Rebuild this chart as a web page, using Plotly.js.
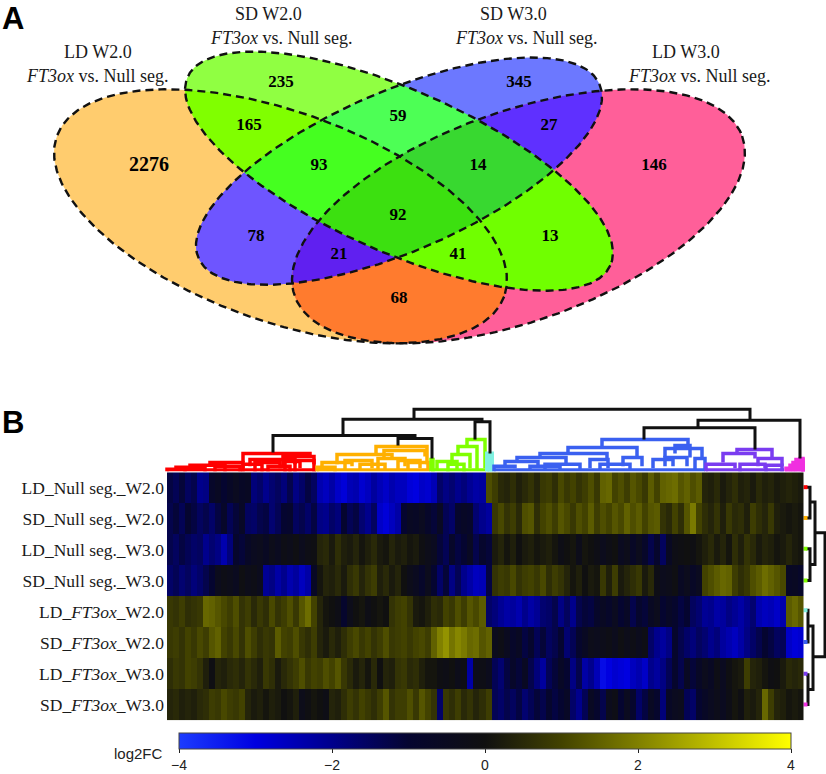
<!DOCTYPE html>
<html>
<head>
<meta charset="utf-8">
<script src="https://cdn.plot.ly/plotly-3.0.1.min.js"></script>
<style>html,body{margin:0;padding:0;background:#fff}#chart{width:826px;height:774px}</style>
</head>
<body>
<div id="chart"></div>
<script>
// ---------- Panel A: Venn ----------
const setNames = ["LD W2.0", "SD W2.0", "SD W3.0", "LD W3.0"];
const setSubtitle = "<i>FT3ox</i> vs. Null seg.";
const setLabelX = [98, 268, 513, 686];
const setLabelY = [52, 14, 14, 52];
const setSubX = [97, 281, 526, 699];
const setSubY = [77, 38, 38, 77];
// ellipse: cx, cy, semi-major, semi-minor, tilt in degrees
const ellipseLD2 = [280.5, 218, 237.8, 105.5, 19.9];
const ellipseSD2 = [399, 172.5, 231.7, 81.3, 24.2];
const ellipseSD3 = [399, 172.5, 218.8, 80.4, -23.65];
const ellipseLD3 = [518.5, 218, 237.8, 105.5, -19.9];
const ellipses = [ellipseLD2, ellipseSD2, ellipseSD3, ellipseLD3];

const regionMasks  = [[0],[1],[2],[3],[0,1],[1,2],[2,3],[0,2],[1,3],[0,3],[0,1,2],[1,2,3],[0,2,3],[0,1,3],[0,1,2,3]];
const regionColors = ["#FFCC6E","#90FF42","#6C78FF","#FF5F99","#80FF00","#4DFF55","#5F30FF","#6E55FF","#70FF00","#FF7B2E","#45FF20","#38D830","#6020F0","#70FF00","#3CE010"];
const regionCounts = [2276,235,345,146,165,59,27,78,13,68,93,14,21,41,92];
const countX = [149,281,519,654,249,398,549,256,550,399,319,478,339,458,398];
const countY = [167,83,83,167,127,118,127,239,239,301,167,167,257,257,217];

// ---------- Panel B: heatmap (log2FC) ----------
const rowLabels = ["LD_Null seg._W2.0","SD_Null seg._W2.0","LD_Null seg._W3.0","SD_Null seg._W3.0",
  "LD_<i>FT3ox</i>_W2.0","SD_<i>FT3ox</i>_W2.0","LD_<i>FT3ox</i>_W3.0","SD_<i>FT3ox</i>_W3.0"];
const ldNullW2 = [-1.2,-1.4,-1.1,-1.5,-1.3,-2.0,-1.9,-0.8,-0.6,-1.0,-0.7,-0.5,-0.7,-0.6,-1.8,-1.6,-2.0,-1.7,-1.5,-1.8,-1.3,-1.9,-1.6,-1.2,-1.5,-2.4,-2.6,-2.3,-2.7,-2.9,-2.5,-2.4,-2.8,-2.6,-2.2,-2.5,-2.7,-2.4,-2.6,-2.6,-2.9,-3.0,-2.7,-2.8,-2.5,-1.6,-1.9,-1.7,-2.0,-1.8,-2.1,-2.3,-2.2,1.2,0.9,0.5,0.4,0.6,0.3,0.5,0.7,0.4,0.8,0.9,0.6,1.1,0.8,1.0,0.7,0.9,1.2,0.8,1.5,1.6,1.0,1.2,0.9,1.3,1.1,0.8,1.4,1.0,1.5,1.6,1.7,1.3,1.5,1.2,1.4,0.4,0.3,0.5,0.2,0.4,0.6,0.3,0.4,0.2,0.5,0.3,0.4,0.2,0.3,0.4,0.3,0.2];
const sdNullW2 = [-1.3,-1.1,-1.4,-1.0,-1.2,-1.5,-1.3,-1.6,-1.2,-0.8,-1.4,-1.1,-0.7,-1.5,-1.6,-1.3,-1.2,-1.7,-1.4,-1.0,-0.9,-1.5,-1.3,-1.6,-1.2,-1.9,-2.0,-1.6,-1.8,-1.0,-1.4,-1.2,-1.7,-2.0,-1.5,-2.7,-2.9,-2.6,-2.3,-1.0,-0.6,-0.7,-0.5,-0.8,-1.1,-0.6,-1.4,-1.6,-0.9,-0.7,-0.8,-1.7,-2.0,-2.2,0.8,1.1,0.7,0.9,0.5,1.2,1.3,0.6,1.0,1.2,0.9,1.3,1.1,0.8,1.2,1.0,1.4,0.9,1.2,1.0,1.3,1.1,1.5,1.2,1.4,1.0,1.3,1.4,0.7,0.5,1.0,0.6,1.3,1.9,1.0,0.6,0.4,0.7,0.3,0.8,0.5,0.6,0.3,0.9,0.6,0.4,0.8,0.3,0.2,0.1,0.2,0.1];
const ldNullW3 = [-1.3,-1.5,-1.2,-1.4,-1.6,-1.5,-2.0,-1.7,-1.9,-2.4,-1.8,-0.9,-1.1,-0.7,-0.5,-0.4,-0.6,-0.3,-0.5,-0.2,-0.3,-0.1,-0.4,-0.2,-0.1,0.4,0.5,0.2,0.6,0.3,0.2,0.4,0.1,0.3,0.5,0.2,0.1,0.4,0.2,0.3,0.1,0.2,-0.1,-0.3,-0.5,-1.1,-1.4,-0.8,-1.2,-1.0,-0.6,-1.3,-0.9,-1.1,0.2,0.4,0.1,0.3,0.0,0.2,0.3,0.1,0.2,0.3,0.1,-0.2,0.0,0.1,-0.3,0.1,0.0,-0.2,-0.4,-0.2,0.0,-0.5,-0.3,-0.7,-0.4,-0.8,-1.3,-0.9,-1.5,-0.6,-0.2,-0.1,0.0,-0.1,0.1,0.3,0.5,0.2,0.4,0.1,0.6,0.3,0.7,0.5,0.2,0.4,0.3,0.1,0.2,0.4,0.2,0.1];
const sdNullW3 = [-1.6,-1.4,-1.7,-1.5,-1.8,-1.6,-1.3,-1.0,-0.4,-0.2,-0.3,-0.5,-0.1,-0.3,-0.2,-0.4,-2.1,-1.9,-2.3,-2.0,-2.4,-2.2,-2.6,-2.3,-0.7,0.1,0.4,0.3,0.5,0.2,0.6,0.8,0.4,0.7,0.9,0.3,0.5,0.2,0.4,0.0,-0.3,-0.5,-0.8,-0.4,-1.0,-1.6,-1.1,-1.9,-1.4,-2.0,-2.3,-2.6,-2.5,-1.2,0.7,0.9,0.8,1.1,0.7,0.9,1.0,0.8,1.1,0.6,0.9,0.7,0.4,0.1,0.3,0.0,0.2,0.1,0.8,0.3,0.9,0.2,0.4,0.6,0.8,0.2,0.5,-0.2,-0.4,-0.3,-0.1,-0.6,-0.4,-0.7,-0.5,1.0,1.2,1.4,1.6,1.5,0.9,0.6,0.8,1.2,1.4,1.7,1.5,1.3,1.1,-0.7,-0.6,-0.8];
const ldFt3W2 = [0.8,0.7,0.9,0.6,0.7,0.8,1.6,1.5,1.3,1.1,0.9,1.2,0.7,0.9,0.5,0.8,0.6,1.1,0.7,0.9,1.2,0.8,1.3,1.7,1.0,0.4,0.1,0.0,-0.2,-0.9,-0.3,0.0,0.1,-0.2,0.0,0.1,0.0,0.7,0.9,1.0,0.7,0.2,0.1,0.3,0.6,0.5,1.0,0.8,1.2,0.9,1.3,1.1,1.4,-1.6,-1.8,-2.1,-2.3,-2.2,-2.4,-2.0,-2.3,-2.1,-1.7,-1.6,-1.3,-1.9,-1.5,-2.0,-1.3,-1.1,-1.2,-0.8,-0.6,-0.8,-0.5,-1.0,-0.7,-1.3,-0.9,-1.1,-0.6,-0.4,-1.0,-0.7,-0.9,-1.2,-1.0,-1.5,-1.7,-2.1,-2.0,-2.3,-2.2,-1.9,-2.1,-2.3,-2.0,-1.7,-2.4,-2.6,-2.5,-2.7,-2.4,1.4,1.6,1.3];
const sdFt3W2 = [0.8,0.9,0.7,1.0,0.8,1.1,0.9,1.3,1.5,1.0,0.8,1.1,0.7,1.2,0.9,0.6,0.8,0.7,1.4,1.0,0.9,1.2,0.8,0.6,0.9,0.4,0.2,0.5,0.3,0.6,0.9,1.1,0.8,1.0,0.7,0.9,1.2,0.8,0.9,1.0,0.8,1.0,1.1,0.9,1.5,2.0,2.3,1.8,2.1,1.9,1.6,1.7,1.3,1.5,-0.4,-0.2,-0.5,-0.8,-0.6,-1.2,-0.9,-1.4,-1.1,-1.5,-1.3,-1.0,-1.7,-1.4,-0.9,-0.6,-0.3,-0.4,-0.3,-0.2,-0.4,-0.1,-0.3,-0.2,-0.4,-0.2,-1.6,-2.0,-2.2,-1.9,-0.9,-1.3,-1.6,-1.8,-1.5,-1.7,-2.0,-1.8,-2.2,-2.4,-2.6,-2.3,-1.9,-1.6,-1.3,-1.0,-1.2,-1.5,-1.4,-2.7,-2.9,-2.8];
const ldFt3W3 = [0.6,0.8,0.7,1.0,0.9,0.7,0.3,-0.1,0.4,0.3,0.5,0.6,0.4,0.7,0.5,0.3,0.8,0.6,0.2,0.5,0.7,0.9,1.2,0.8,1.0,0.9,1.2,1.0,1.3,0.8,0.5,0.2,0.4,0.1,0.5,0.0,0.4,0.3,0.7,0.8,0.5,0.6,0.3,0.1,0.1,-0.1,-0.2,0.0,-0.3,-0.2,-2.3,-0.3,-0.2,-0.4,-1.4,-1.7,-1.2,-0.8,-1.1,-0.6,-1.3,-1.8,-2.2,-1.4,-1.1,-0.7,-1.0,-1.9,-1.3,-2.3,-2.0,-2.5,-3.2,-3.0,-2.8,-2.9,-3.0,-2.6,-2.4,-2.7,-2.0,-2.2,-1.9,-1.4,-0.9,-1.3,-0.6,-1.1,-0.7,-0.4,-0.6,-0.2,-0.5,-0.1,0.1,0.2,0.9,0.4,0.3,0.1,-0.1,0.0,0.2,0.5,0.4,0.5];
const sdFt3W3 = [0.4,0.5,0.3,0.4,0.3,0.5,0.6,0.9,0.8,1.1,0.9,0.8,1.0,0.4,0.2,0.3,0.1,0.3,0.2,0.0,0.1,0.3,-0.3,-0.1,0.1,0.0,-0.2,0.4,0.3,0.6,0.9,0.7,1.0,0.8,0.6,0.9,1.3,0.7,0.9,0.9,1.2,0.8,1.3,1.0,0.7,-1.6,0.8,0.6,0.9,0.5,0.7,0.4,0.6,0.9,-1.4,-1.6,-1.3,-1.5,-1.2,-1.7,-1.4,-1.1,-1.3,-0.9,-1.2,-1.0,-0.7,-1.6,-2.0,-1.4,-0.6,-0.9,-1.3,-0.4,-0.2,-1.0,-0.5,-0.9,-1.6,-1.2,-0.6,-0.9,-1.8,-0.7,-0.5,-0.4,-1.4,-1.6,-1.0,-0.7,-0.5,-0.3,-0.5,-0.2,0.1,-0.1,0.3,0.2,0.4,1.6,0.9,0.4,0.3,0.1,0.2,0.1];
const heatRows = [ldNullW2, sdNullW2, ldNullW3, sdNullW3, ldFt3W2, sdFt3W2, ldFt3W3, sdFt3W3];
const colorTicks = [-4,-2,0,2,4];

// dendrogram links: [xLeft, xRight, yJoin, yEndLeft, yEndRight]
const linksBlack = [[414,750,412.5,423,423.5],[698,800,423.5,431,462],[644,755,431,443,453],[343,482,422.5,439,425],[273,415,439,456,442],[398,432,442,449,462],[475,490,425,443,457]];
const linksRed = [[167,185,473,475,475],[176,205,471,473,475],[190,225,469,471,475],[210,243,466,469,472],[243,310,457,466,460],[283,314,460,470,468],[250,295,463,470,468],[215,240,470,475,475],[243,262,468,475,475],[255,280,466,475,472],[268,290,470,475,475],[285,300,465,475,472],[295,314,464,475,475]];
const linksOrange = [[376,427,450,457,468],[384,425,454,462,460],[337,392,458,468,462],[322,352,466,474,470],[345,372,464,474,472],[378,405,462,474,470],[398,420,464,474,472],[408,428,466,474,474],[360,385,468,474,474],[317,335,471,475,475]];
const linksGreen = [[467,485,443,450,472],[458,477,450,458,473],[452,470,458,465,472],[437,457,465,473,473],[448,464,468,475,475],[431,433,463,475,475]];
const linksCyan = [[487,492,457,475,475],[489,490,457,475,475]];
const linksBlue = [[602,688,443,451,450],[568,637,451,458,460],[540,607,457,461,464],[517,566,461,465,468],[505,538,465,470,470],[494,515,470,475,472],[590,608,463,472,472],[623,642,461,470,470],[665,702,452,461,462],[675,690,449,457,461],[653,673,463,472,470],[665,687,461,470,470],[695,705,462,474,474],[545,580,468,474,474],[600,630,468,474,474],[530,560,470,474,474]];
const linksPurple = [[737,772,453,458,462],[723,755,457,466,462],[758,782,462,470,470],[706,735,468,475,472],[740,765,468,475,472],[766,782,469,475,475]];
const linksMagenta = [[786,803,472,475,475],[790,803,469,475,475],[793,803,466,475,475],[796,803,463,475,475],[800,803,462,475,475]];
const linksRow = [[808,808,0,0,0]];
// right dendrogram: [yTop, yBottom, xJoin, xEndTop, xEndBottom]
const rowLinks = [[491,522,810,806,806],[553,585,810,806,806],[506,569,815,810,810],[615,647,808,806,806],[631,695,813,808,808],[680,710,808,806,806],[537,662,825,815,813]];
const rowTipY = [491,522,553,585,615,647,679,710];
const rowTipColors = ["#FF0000","#FFB000","#80FF00","#80FF00","#80F0E0","#3A60F0","#7A3CF0","#F030E0"];

const heatScale = [[0,"#1C3CFF"],[0.125,"#0000E0"],[0.25,"#00008C"],[0.375,"#050530"],[0.5,"#101010"],[0.625,"#424200"],[0.75,"#808000"],[0.875,"#C0C000"],[1,"#FFFF00"]];

// ---------- helpers ----------
function ellipsePoly(e, n) {
  const [cx, cy, a, b, deg] = e, t = deg * Math.PI / 180, pts = [];
  for (let k = 0; k < n; k++) {
    const u = 2 * Math.PI * k / n;
    pts.push([cx + a * Math.cos(u) * Math.cos(t) - b * Math.sin(u) * Math.sin(t),
              cy + a * Math.cos(u) * Math.sin(t) + b * Math.sin(u) * Math.cos(t)]);
  }
  return pts;
}
function inEllipse(e, p) {
  const [cx, cy, a, b, deg] = e, t = deg * Math.PI / 180, dx = p[0] - cx, dy = p[1] - cy;
  const u = dx * Math.cos(t) + dy * Math.sin(t), v = -dx * Math.sin(t) + dy * Math.cos(t);
  return (u * u) / (a * a) + (v * v) / (b * b) <= 1;
}
function clipPoly(poly, e) {
  // Clip a polygon against a convex ellipse by walking its edges and bisecting each crossing.
  const out = [];
  for (let i = 0; i < poly.length; i++) {
    const p = poly[i], q = poly[(i + 1) % poly.length], pIn = inEllipse(e, p), qIn = inEllipse(e, q);
    if (pIn) out.push(p);
    if (pIn !== qIn) {
      let lo = pIn ? p : q, hi = pIn ? q : p;
      for (let k = 0; k < 22; k++) {
        const m = [(lo[0] + hi[0]) / 2, (lo[1] + hi[1]) / 2];
        if (inEllipse(e, m)) lo = m; else hi = m;
      }
      out.push(lo);
    }
  }
  return out;
}
function regionPoly(mask) {
  // Subset-only polygons, with the ellipse outline of the clipper added so arcs stay smooth.
  let poly = ellipsePoly(ellipses[mask[0]], 720);
  for (let k = 1; k < mask.length; k++) {
    const other = ellipses[mask[k]];
    const extra = ellipsePoly(other, 720).filter(p => mask.every(m => inEllipse(ellipses[m], p)));
    poly = clipPoly(poly, other).concat(extra);
    const cx = poly.reduce((s, p) => s + p[0], 0) / poly.length, cy = poly.reduce((s, p) => s + p[1], 0) / poly.length;
    poly.sort((a, b) => Math.atan2(a[1] - cy, a[0] - cx) - Math.atan2(b[1] - cy, b[0] - cx));
  }
  return poly;
}
const page = {xaxis: "x", yaxis: "y", hoverinfo: "skip", showlegend: false};
function linkTrace(links, color, width) {
  const x = [], y = [];
  links.forEach(l => { x.push(l[0], l[0], l[1], l[1], null); y.push(l[3], l[2], l[2], l[4], null); });
  return {...page, type: "scatter", mode: "lines", x, y, line: {color, width, shape: "linear"}};
}
function baseTrace(x0, x1, color) {
  return {...page, type: "scatter", mode: "lines", x: [x0, x1], y: [473.5, 473.5], line: {color, width: 3}};
}

// ---------- traces ----------
const traces = [];
regionMasks.map((m, i) => ({m, i})).sort((a, b) => a.m.length - b.m.length).forEach(({m, i}) => {
  const p = regionPoly(m);
  traces.push({...page, type: "scatter", mode: "lines", x: p.map(q => q[0]), y: p.map(q => q[1]),
    fill: "toself", fillcolor: regionColors[i], line: {width: 0, color: regionColors[i]}});
});
ellipses.forEach(e => {
  const p = ellipsePoly(e, 360); p.push(p[0]);
  traces.push({...page, type: "scatter", mode: "lines", x: p.map(q => q[0]), y: p.map(q => q[1]),
    line: {color: "#111", width: 2.4, dash: "8px,5px"}});
});
traces.push({...page, type: "scatter", mode: "text", x: countX, y: countY,
  text: regionCounts.map(String), textposition: "middle center",
  textfont: {family: "Liberation Serif", size: regionCounts.map(v => v > 1000 ? 20 : 17), color: "#000", weight: 700}});

traces.push({type: "heatmap", xaxis: "x2", yaxis: "y2", z: heatRows, y: rowLabels,
  x: heatRows[0].map((_, i) => i), colorscale: heatScale, zmin: -4, zmax: 4, zsmooth: false, hoverinfo: "skip",
  colorbar: {orientation: "h", x: 485 / 826, xanchor: "center", y: (774 - 739) / 774, yanchor: "top",
    len: 612, lenmode: "pixels", thickness: 16, thicknessmode: "pixels", xpad: 0, ypad: 0,
    tickvals: colorTicks, ticks: "outside", ticklen: 4, tickcolor: "#222", outlinecolor: "#444", outlinewidth: 1,
    tickfont: {family: "Liberation Sans", size: 14, color: "#222"}}});

[[167, 316, "#FF0000"], [317, 430, "#FFB000"], [431, 486, "#80FF00"], [486, 493, "#80F0E0"], [494, 705, "#3A60F0"], [706, 784, "#7A3CF0"], [785, 803, "#F030E0"]]
  .forEach(b => traces.push(baseTrace(b[0], b[1], b[2])));
traces.push(linkTrace(linksRed, "#FF0000", 3.5));
traces.push(linkTrace(linksOrange, "#FFB000", 3.5));
traces.push(linkTrace(linksGreen, "#80FF00", 3.5));
traces.push(linkTrace(linksCyan, "#80F0E0", 4));
traces.push(linkTrace(linksBlue, "#3A60F0", 3.5));
traces.push(linkTrace(linksPurple, "#7A3CF0", 3.5));
traces.push(linkTrace(linksMagenta, "#F030E0", 3.5));
traces.push(linkTrace(linksBlack, "#111", 3));
const rx = [], ry = [];
rowLinks.forEach(l => { rx.push(l[3], l[2], l[2], l[4], null); ry.push(l[0], l[0], l[1], l[1], null); });
traces.push({...page, type: "scatter", mode: "lines", x: rx, y: ry, line: {color: "#111", width: 3}});
traces.push({...page, type: "scatter", mode: "markers", x: rowTipY.map(() => 805.5), y: rowTipY,
  marker: {symbol: "square", size: 4, color: rowTipColors, line: {width: 0}}});

// ---------- annotations ----------
const serif = {family: "Liberation Serif", color: "#1a1a1a", size: 18};
const annotations = [];
setNames.forEach((name, i) => {
  annotations.push({xref: "x", yref: "y", x: setLabelX[i], y: setLabelY[i], text: name, showarrow: false, font: serif});
  annotations.push({xref: "x", yref: "y", x: setSubX[i], y: setSubY[i], text: setSubtitle, showarrow: false, font: serif});
});
annotations.push({xref: "x", yref: "y", x: 13, y: 19, text: "A", showarrow: false, font: {family: "Liberation Sans", size: 31, weight: 700, color: "#000"}});
annotations.push({xref: "x", yref: "y", x: 13, y: 426, text: "B", showarrow: false, font: {family: "Liberation Sans", size: 31, weight: 700, color: "#000"}});
annotations.push({xref: "x", yref: "y", x: 165, y: 759, xanchor: "right", text: "log2FC", showarrow: false, font: {family: "Liberation Sans", size: 15, color: "#222"}});

const layout = {
  width: 826, height: 774, margin: {l: 0, r: 0, t: 0, b: 0}, paper_bgcolor: "#fff", plot_bgcolor: "rgba(0,0,0,0)",
  showlegend: false, annotations,
  xaxis: {domain: [0, 1], range: [0, 826], visible: false, fixedrange: true},
  yaxis: {domain: [0, 1], range: [774, 0], visible: false, fixedrange: true},
  xaxis2: {domain: [167 / 826, 803.5 / 826], range: [-0.5, 105.5], visible: false, anchor: "y2", fixedrange: true},
  yaxis2: {domain: [(774 - 726) / 774, (774 - 476) / 774], autorange: "reversed", type: "category", anchor: "x2",
    showgrid: false, zeroline: false, showline: false, ticks: "", ticklabelstandoff: 2, fixedrange: true,
    tickfont: {family: "Liberation Serif", size: 17.5, color: "#1a1a1a"}}
};
Plotly.newPlot("chart", traces, layout, {displayModeBar: false, staticPlot: true});
</script>
</body>
</html>
